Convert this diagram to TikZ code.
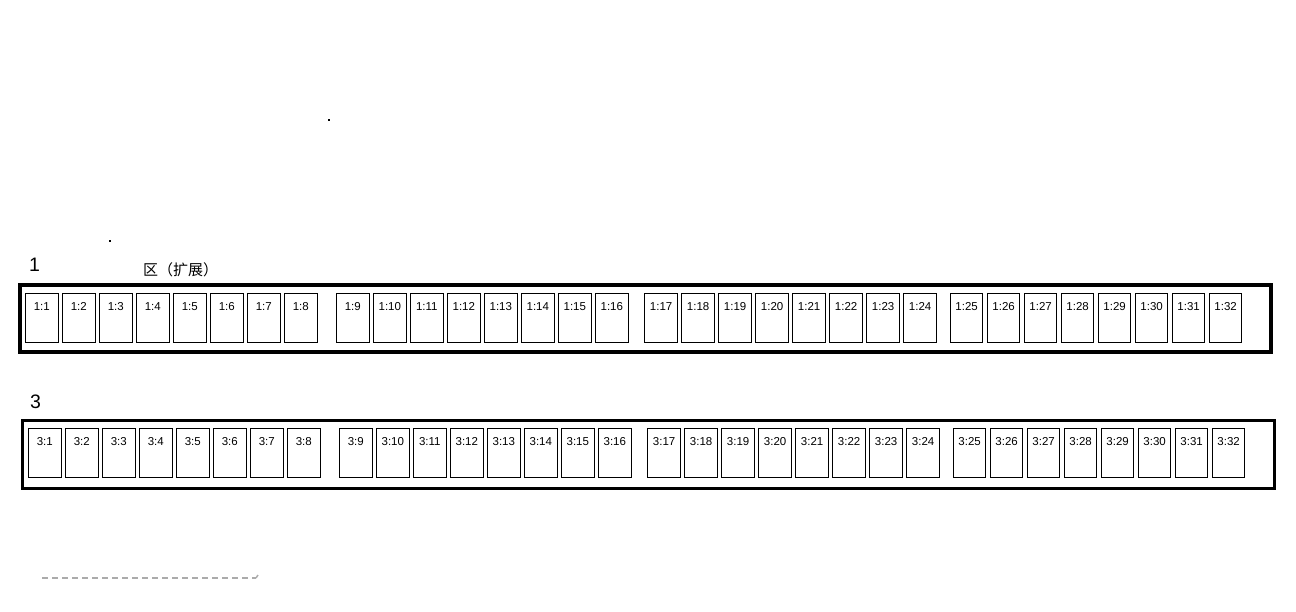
\documentclass[tikz,border=0pt]{standalone}
\usepackage{fontspec}
\setmainfont{Liberation Sans}
\newfontfamily\cjkfont{Noto Sans CJK SC}
\tikzset{
	slot/.style={draw, line width=1pt, minimum width=32.5pt, minimum height=49pt, inner sep=0pt},
	slotlabel/.style={font=\fontsize{11.5}{12}\selectfont, inner sep=0pt},
	bay/.style={draw, line width=3.3pt},
	rowlabel/.style={font=\fontsize{19.5}{20}\selectfont, inner sep=0pt, anchor=west},
	guide/.style={draw=black!33, line width=2pt, dash pattern=on 6pt off 4pt}
}

\begin{document}
\begin{tikzpicture}[x=1pt,y=-1pt]
	\useasboundingbox (0,0) rectangle (1296,612);
	% frames
	\coordinate (F1a) at (20,285);
	\coordinate (F1b) at (1271,352);
	\coordinate (F3a) at (22.7,420.5);
	\coordinate (F3b) at (1274.3,488.3);
	\draw[bay] (F1a) rectangle (F1b);
	\draw[bay] (F3a) rectangle (F3b);
	% titles
	\node[rowlabel] (T1) at (29,265) {1};
	\node[rowlabel] (T3) at (30,402) {3};
	\node[anchor=west, inner sep=0pt, font=\cjkfont\fontsize{15}{15}\selectfont] (T1b) at (143,269.5) {区（扩展）};
	% stray dots
	\fill (327.5,119.5) rectangle (329.5,121.5);
	\fill (109,240.5) rectangle (111,242.5);
	% slots of row 1 and row 3
	\foreach \g/\dx in {0/0,1/311,2/619.3,3/924.8}{
		\foreach \k in {1,...,8}{
			\pgfmathtruncatemacro{\n}{8*\g+\k}
			\node[slot] (a\n) at (41.8+\dx+37*\k-37, 318.3) {};
			\node[slotlabel] (la\n) at ([yshift=-13pt]a\n.north) {1:\n};
			\node[slot] (c\n) at (44.8+\dx+37*\k-37, 453.3) {};
			\node[slotlabel] (lc\n) at ([yshift=-13.5pt]c\n.north) {3:\n};
		}
	}
	% dashed guide
	\coordinate (G1) at (42,578);
	\coordinate (G2) at (256,578);
	\draw[guide] (G1) -- (G2);
	\draw[black!33, line width=1.5pt] (G2) -- ++(2,-3);
\end{tikzpicture}
\end{document}
